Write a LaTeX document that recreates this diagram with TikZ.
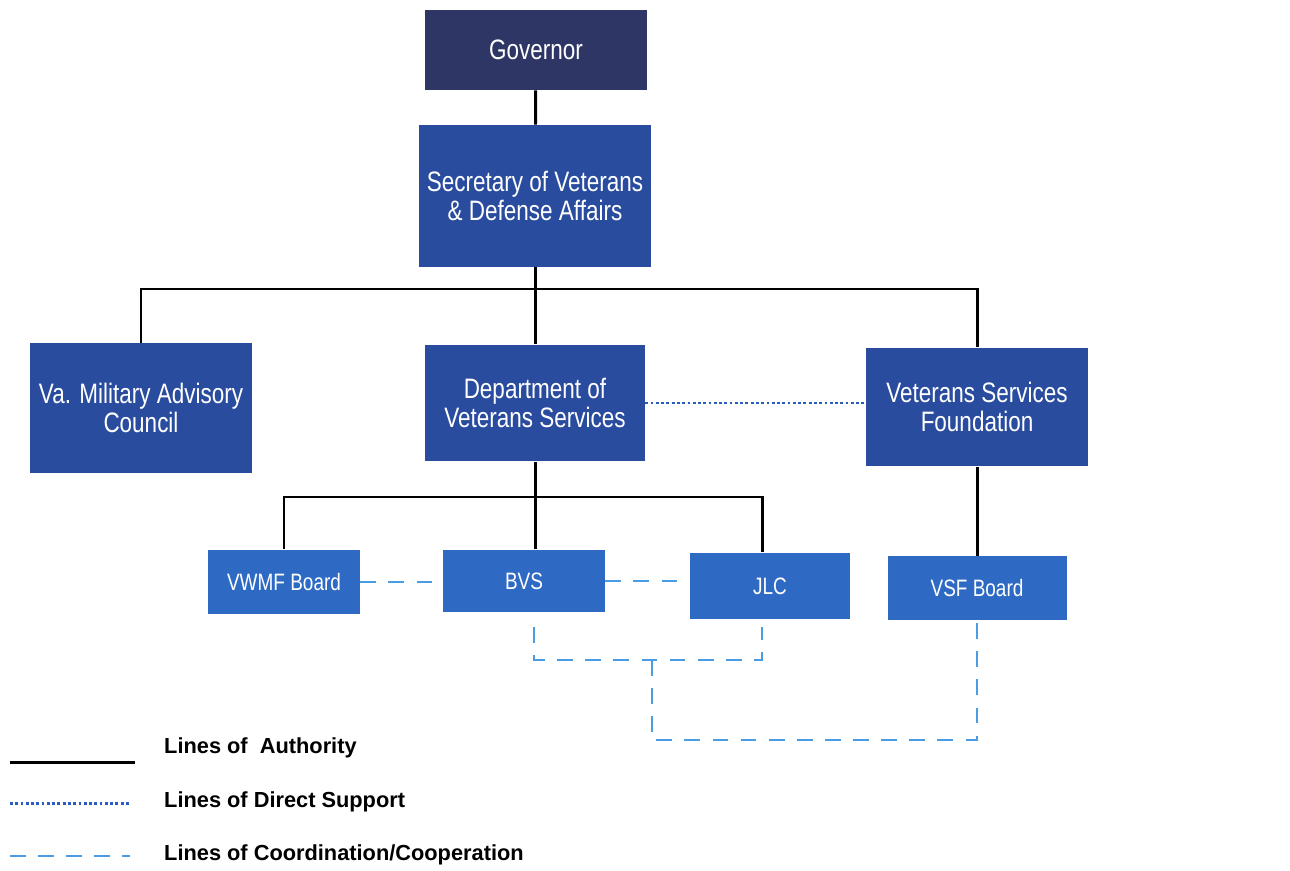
\documentclass[tikz,border=0pt]{standalone}
\usepackage{fontspec}
\setmainfont{Liberation Sans}
\newfontfamily\boxfont[FakeStretch=0.8]{Liberation Sans}
\definecolor{govblue}{HTML}{2D3665}
\definecolor{darkbox}{HTML}{2A4C9E}
\definecolor{lightbox}{HTML}{2E6AC4}
\definecolor{supblue}{HTML}{2A5CC0}
\definecolor{coordblue}{HTML}{4A9DE2}

\begin{document}
\begin{tikzpicture}
[x=0.02cm,y=-0.02cm,
 box/.style={rectangle,text=white,align=center,inner sep=0pt,
   font=\boxfont\fontsize{16}{17}\selectfont},
 bigbox/.style={box,fill=darkbox},
 smallbox/.style={box,fill=lightbox,font=\boxfont\fontsize{13.5}{15}\selectfont},
 authority/.style={line width=1.7pt,black},
 support/.style={line width=1.7pt,supblue,dash pattern=on 1.6pt off 1.4pt},
 coordline/.style={line width=1.2pt,coordblue,dash pattern=on 9pt off 7pt},
 legend/.style={anchor=west,font=\bfseries\fontsize{12.4}{14}\selectfont}]
\useasboundingbox (0,0) rectangle (1290,871);
\node[box,fill=govblue,minimum width=4.46cm,minimum height=1.6cm] (gov) at (536,50) {Governor};
\node[bigbox,minimum width=4.64cm,minimum height=2.84cm] (sec) at (535,196) {Secretary of Veterans\\\& Defense Affairs};
\node[bigbox,minimum width=4.46cm,minimum height=2.6cm] (vmac) at (141,408) {Va. Military Advisory\\Council};
\node[bigbox,minimum width=4.4cm,minimum height=2.34cm] (dvs) at (535,403) {Department of\\Veterans Services};
\node[bigbox,minimum width=4.44cm,minimum height=2.38cm] (vsf) at (977,407) {Veterans Services\\Foundation};
\node[smallbox,minimum width=3.04cm,minimum height=1.3cm] (vwmf) at (284,582) {VWMF Board};
\node[smallbox,minimum width=3.24cm,minimum height=1.26cm] (bvs) at (524,581) {BVS};
\node[smallbox,minimum width=3.22cm,minimum height=1.34cm] (jlc) at (770,586) {JLC};
\node[smallbox,minimum width=3.58cm,minimum height=1.28cm] (vsfb) at (977,588) {VSF Board};
% junctions
\coordinate (top) at (535,289);
\coordinate (mid) at (535,497);
\coordinate (bvsb) at (534,627);
\coordinate (jlcb) at (762,627);
\coordinate (loop) at (652,660);
\coordinate (low) at (652,740);
% authority
\draw[authority] (gov) -- (sec);
\draw[authority] (sec) -- (top);
\draw[authority] (top) -| (vmac);
\draw[authority] (top) -- (dvs);
\draw[authority] (top) -| (vsf);
\draw[authority] (dvs) -- (mid);
\draw[authority] (mid) -| (vwmf);
\draw[authority] (mid) -- (mid |- bvs.north);
\draw[authority] (mid) -| (jlc.north -| jlcb);
\draw[authority] (vsf) -- (vsfb);
% direct support
\draw[support] (dvs.east) -- (vsf.west |- dvs.east);
% coordination
\draw[coordline] (vwmf.east) -- (vwmf.east -| bvs.west);
\draw[coordline] (bvs.east) -- (bvs.east -| jlc.west);
\draw[coordline] (bvsb) |- (loop) -| (jlcb);
\draw[coordline] (loop) -- (low) -| (vsfb.south);
% legend
\coordinate (la1) at (10,762); \coordinate (la2) at (135,762);
\coordinate (lb1) at (10,803); \coordinate (lb2) at (130,803);
\coordinate (lc1) at (10,856); \coordinate (lc2) at (130,856);
\draw[authority] (la1) -- (la2);
\draw[support] (lb1) -- (lb2);
\draw[coordline] (lc1) -- (lc2);
\node[legend] (auth) at (158,748) {Lines of\ \ Authority};
\node[legend] (sup) at (158,802) {Lines of Direct Support};
\node[legend] (coop) at (158,855) {Lines of Coordination/Cooperation};
\end{tikzpicture}
\end{document}
